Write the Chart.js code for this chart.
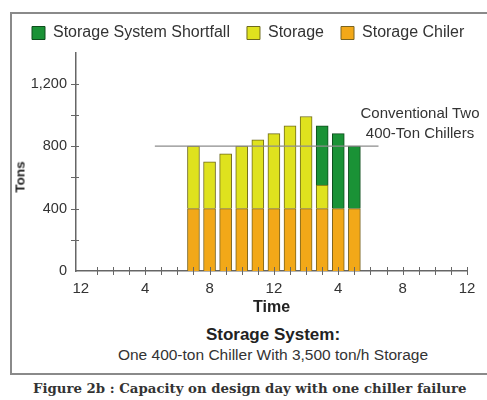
<!DOCTYPE html>
<html>
<head>
<meta charset="utf-8">
<script src="https://cdn.jsdelivr.net/npm/chart.js@4.4.1/dist/chart.umd.min.js"></script>
<style>
  html, body { margin: 0; padding: 0; background: #fff; }
  body { width: 487px; height: 400px; position: relative; overflow: hidden;
         font-family: "Liberation Sans", Arial, sans-serif; color: #222; }
  .frame { position: absolute; left: 10px; top: 12px; width: 500px; height: 359px;
           border: 2px solid #8a8a8a; border-right: none; }
  .wrap { position: absolute; left: 12px; top: 14px; width: 475px; height: 305px; }
  .tons { position: absolute; left: 20px; top: 177px; font-weight: bold; font-size: 13.5px;
          transform: translate(-50%, -50%) rotate(-90deg); white-space: nowrap; }
  .conv { position: absolute; left: 350px; width: 140px; top: 103px; text-align: center;
          font-size: 15px; line-height: 20px; color: #333; }
  .sys { position: absolute; left: 73px; width: 400px; top: 325px; text-align: center; }
  .sys b { display: block; font-size: 17px; line-height: 20px; }
  .sys span { display: block; font-size: 15.5px; line-height: 20px; color: #333; }
  .caption { position: absolute; left: 33px; top: 381px; font-family: "DejaVu Serif", "Liberation Serif", serif;
             font-weight: bold; font-size: 13.3px; color: #333; white-space: nowrap; }
</style>
</head>
<body>
<div class="frame"></div>
<div class="wrap"><canvas id="chart"></canvas></div>
<div class="tons">Tons</div>
<div class="conv">Conventional Two<br>400-Ton Chillers</div>
<div class="sys"><b>Storage System:</b><span>One 400-ton Chiller With 3,500 ton/h Storage</span></div>
<div class="caption">Figure 2b : Capacity on design day with one chiller failure</div>
<script>
// hour of day for each bar
const hours = [7, 8, 9, 10, 11, 12, 13, 14, 15, 16, 17];
const chillerTons = [400, 400, 400, 400, 400, 400, 400, 400, 400, 400, 400];
const storageTons = [400, 300, 350, 400, 440, 480, 530, 590, 150, 0, 0];
const shortfallTons = [0, 0, 0, 0, 0, 0, 0, 0, 380, 480, 400];

// conventional two-chiller capacity line
const conventionalTons = 800;
const conventionalFrom = 4.6;
const conventionalTo = 18.5;

const xTickHours = [0, 4, 8, 12, 16, 20, 24];
const xTickLabels = ['12', '4', '8', '12', '4', '8', '12'];
const yTickValues = [0, 400, 800, 1200];
const yTickLabels = ['0', '400', '800', '1,200'];

const font = '"Liberation Sans", Arial, sans-serif';

function points(values) {
    return hours.map((h, i) => ({ x: h, y: values[i] || null }));
}

const crossTicks = {
    id: 'crossTicks',
    beforeUpdate(chart) {
        // one wide legend row, in a shorter box than the default
        const legend = chart.legend;
        if (legend && !legend._short) {
            legend._short = true;
            const fit = legend.fit;
            const draw = legend.draw;
            legend.fit = function () {
                this.maxWidth = 480;
                fit.call(this);
                this.height = 44.5;
            };
            legend.draw = function () {
                const right = this.right;
                this.right = 480;
                draw.call(this);
                this.right = right;
            };
        }
    },
    // small tick marks that cross both axes, like the original drawing
    afterDraw(chart) {
        const { ctx, scales: { x, y } } = chart;
        ctx.save();
        ctx.strokeStyle = '#666';
        ctx.lineWidth = 1;
        ctx.beginPath();
        x.ticks.forEach(t => {
            if (t.value <= 0 || !Number.isInteger(t.value)) return;
            const px = Math.round(x.getPixelForValue(t.value)) + 0.5;
            ctx.moveTo(px, y.bottom - 4);
            ctx.lineTo(px, y.bottom + 4);
        });
        y.ticks.forEach(t => {
            if (t.value <= 0 || t.value >= y.max) return;
            const py = Math.round(y.getPixelForValue(t.value)) + 0.5;
            ctx.moveTo(x.left - 5, py);
            ctx.lineTo(x.left + 3, py);
        });
        ctx.stroke();
        ctx.restore();
    }
};

new Chart(document.getElementById('chart'), {
    data: {
        datasets: [
            {
                type: 'bar', label: 'Storage Chiler', data: points(chillerTons),
                backgroundColor: '#f2a818', borderColor: '#7a6420', borderWidth: 1,
                barThickness: 12, order: 1
            },
            {
                type: 'bar', label: 'Storage', data: points(storageTons),
                backgroundColor: '#dfe21e', borderColor: '#6e6a1c', borderWidth: 1,
                barThickness: 12, order: 1
            },
            {
                type: 'bar', label: 'Storage System Shortfall', data: points(shortfallTons),
                backgroundColor: '#1a9236', borderColor: '#0e4d1c', borderWidth: 1,
                barThickness: 12, order: 1
            },
            {
                type: 'line', label: 'Conventional',
                data: [{ x: conventionalFrom, y: conventionalTons }, { x: conventionalTo, y: conventionalTons }],
                borderColor: '#8c8c8c', borderWidth: 1.2, pointRadius: 0, stack: 'line', order: 0
            }
        ]
    },
    options: {
        responsive: true,
        maintainAspectRatio: false,
        animation: false,
        layout: { padding: { top: -6, right: 20, left: 3, bottom: 0 } },
        plugins: {
            legend: {
                position: 'top',
                align: 'start',
                reverse: true,
                labels: {
                    boxWidth: 13, boxHeight: 13, padding: 17,
                    font: { family: font, size: 16 }, color: '#333',
                    filter: item => item.datasetIndex < 3
                }
            },
            tooltip: { enabled: false }
        },
        scales: {
            x: {
                type: 'linear', stacked: true, offset: false,
                min: -0.3, max: 24,
                grid: { display: false, drawTicks: false },
                border: { display: true, color: '#666', width: 1.5 },
                ticks: {
                    stepSize: 1, includeBounds: false, autoSkip: false, maxRotation: 0,
                    padding: 9, color: '#333', font: { family: font, size: 15 },
                    callback: v => {
                        const i = xTickHours.indexOf(v);
                        return i >= 0 ? xTickLabels[i] : '';
                    }
                },
                title: {
                    display: true, text: 'Time', color: '#222',
                    font: { family: font, size: 16, weight: 'bold' }, padding: { top: 0, bottom: 2 }
                },
                afterFit: scale => { scale.height = 48; }
            },
            y: {
                stacked: true,
                min: 0, max: 1400,
                grid: { display: false, drawTicks: false },
                border: { display: true, color: '#666', width: 1.5 },
                ticks: {
                    stepSize: 200, padding: 9, color: '#333', font: { family: font, size: 14.5 },
                    callback: v => {
                        const i = yTickValues.indexOf(v);
                        return i >= 0 ? yTickLabels[i] : '';
                    }
                },
                afterFit: scale => { scale.width = 61; scale.paddingTop = 0; }
            }
        }
    },
    plugins: [crossTicks]
});
</script>
</body>
</html>
